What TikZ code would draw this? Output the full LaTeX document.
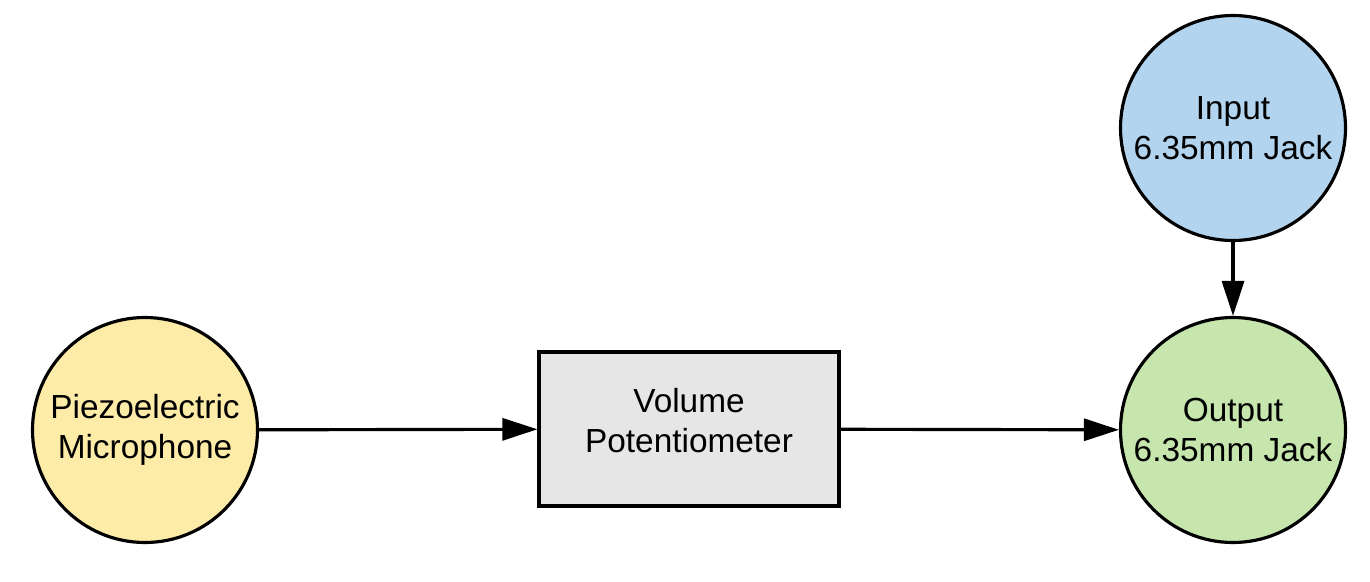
\documentclass[tikz,border=0pt]{standalone}
\usepackage{fontspec}
\setmainfont{Liberation Sans}
\usetikzlibrary{arrows.meta}
\definecolor{micyellow}{HTML}{FDEBA8}
\definecolor{potgray}{HTML}{E6E6E6}
\definecolor{jackblue}{HTML}{B2D4EF}
\definecolor{jackgreen}{HTML}{C6E6AE}
\tikzset{
  part/.style={circle, draw, line width=1.8pt, minimum size=4.5cm, inner sep=0pt,
    align=center, font=\fontsize{19}{22.7}\selectfont},
  pot/.style={rectangle, draw, line width=1.8pt, fill=potgray, minimum width=6cm,
    minimum height=3.08cm, align=center, font=\fontsize{19}{22.7}\selectfont},
  wire/.style={line width=1.8pt, -{Triangle[length=0.7cm, width=0.44cm]}}
}
\begin{document}
\begin{tikzpicture}

  \useasboundingbox (0,0) rectangle (27.4,11.62);

  \node[part, fill=micyellow] (mic) at (2.9,3.02) {Piezoelectric\\Microphone};
  \node[pot] (vol) at (13.78,3.04) {Volume\\Potentiometer\rule[-0.34cm]{0pt}{0.34cm}};
  \node[part, fill=jackgreen] (out) at (24.66,3.02) {Output\\6.35mm Jack};
  \node[part, fill=jackblue] (in) at (24.66,9.06) {Input\\6.35mm Jack};

  \draw[wire] (mic) -- (vol);
  \draw[wire] (vol) -- (out);
  \draw[wire] (in) -- (out);

\end{tikzpicture}
\end{document}
